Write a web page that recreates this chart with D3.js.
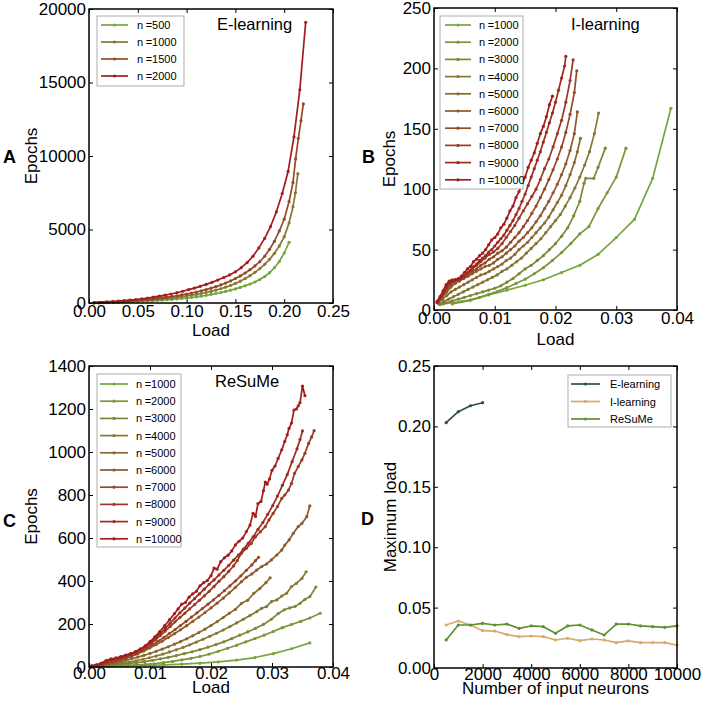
<!DOCTYPE html>
<html><head><meta charset="utf-8">
<script src="https://cdn.jsdelivr.net/npm/d3@7"></script>
<style>body{margin:0;background:#fff}svg{display:block}text{font-family:"Liberation Sans",Arial,Helvetica,sans-serif}</style>
</head><body><script>
// ---------- Panel A: E-learning, [load, epochs]
const eL500=[[0.005,5],[0.010,15],[0.015,25],[0.020,35],[0.025,45],[0.030,55],[0.035,66],[0.040,78],[0.045,92],[0.050,106],[0.055,121],[0.060,137],[0.065,155],[0.070,175],[0.075,197],[0.080,220],[0.085,246],[0.090,274],[0.095,305],[0.100,338],[0.105,375],[0.110,415],[0.115,465],[0.120,520],[0.125,580],[0.130,645],[0.135,715],[0.140,790],[0.145,870],[0.150,960],[0.155,1060],[0.160,1170],[0.165,1290],[0.170,1430],[0.175,1600],[0.180,1800],[0.185,2060],[0.190,2400],[0.195,2820],[0.200,3400],[0.205,4130]];
const eL1000=[[0.005,8],[0.010,20],[0.015,33],[0.020,46],[0.025,60],[0.030,75],[0.035,91],[0.040,108],[0.045,127],[0.050,147],[0.055,169],[0.060,193],[0.065,219],[0.070,247],[0.075,278],[0.080,311],[0.085,347],[0.090,387],[0.095,430],[0.100,477],[0.105,528],[0.110,584],[0.115,646],[0.120,714],[0.125,790],[0.130,874],[0.135,968],[0.140,1074],[0.145,1194],[0.150,1330],[0.155,1485],[0.160,1660],[0.165,1860],[0.170,2085],[0.175,2340],[0.180,2630],[0.185,2970],[0.190,3380],[0.195,3880],[0.200,4500],[0.205,5450],[0.209,6550],[0.2115,7500],[0.214,8800]];
const eL1500=[[0.005,10],[0.010,25],[0.015,41],[0.020,58],[0.025,76],[0.030,95],[0.035,115],[0.040,137],[0.045,161],[0.050,187],[0.055,215],[0.060,246],[0.065,279],[0.070,315],[0.075,354],[0.080,397],[0.085,443],[0.090,494],[0.095,549],[0.100,609],[0.105,675],[0.110,747],[0.115,826],[0.120,912],[0.125,1007],[0.130,1112],[0.135,1228],[0.140,1357],[0.145,1500],[0.150,1660],[0.155,1840],[0.160,2040],[0.165,2265],[0.170,2520],[0.175,2810],[0.180,3180],[0.185,3650],[0.190,4200],[0.195,4900],[0.200,5700],[0.205,6900],[0.209,8200],[0.2117,9800],[0.2145,11200],[0.2172,12400],[0.2196,13540]];
const eL2000=[[0.006,20],[0.012,45],[0.018,72],[0.024,100],[0.030,130],[0.036,162],[0.042,197],[0.048,237],[0.054,281],[0.060,335],[0.066,400],[0.072,465],[0.078,535],[0.084,610],[0.090,700],[0.096,800],[0.102,905],[0.108,1015],[0.114,1135],[0.120,1265],[0.126,1405],[0.132,1560],[0.138,1730],[0.144,1910],[0.150,2120],[0.156,2400],[0.162,2750],[0.168,3180],[0.174,3750],[0.180,4400],[0.186,5200],[0.192,6200],[0.198,7450],[0.204,8950],[0.210,11300],[0.216,14500],[0.222,19100]];
// ---------- Panel B: I-learning
const iL1000=[[0.003,5],[0.006,8],[0.009,12.5],[0.012,16.5],[0.015,20.5],[0.018,25],[0.021,31],[0.024,37],[0.027,46],[0.030,60],[0.033,75],[0.036,109],[0.039,167]];
const iL2000=[[0.0015,5],[0.003,6],[0.0045,7],[0.006,8.5],[0.0075,10.5],[0.009,13],[0.0105,15.5],[0.012,18.5],[0.0135,22],[0.015,25.5],[0.0165,30],[0.018,35],[0.0195,41],[0.021,47.5],[0.0225,55],[0.024,63],[0.0255,69],[0.027,84],[0.0285,97],[0.030,110],[0.0316,134]];
const iL3000=[[0.001,4.5],[0.002,6],[0.003,7.5],[0.004,9],[0.005,10.5],[0.006,12],[0.007,13.5],[0.008,15],[0.009,16.5],[0.010,18],[0.011,20],[0.012,23],[0.013,26],[0.014,30],[0.015,34],[0.016,37],[0.017,41],[0.018,45],[0.019,50],[0.020,55],[0.021,61],[0.022,68],[0.023,78],[0.024,90],[0.0247,105],[0.025,109],[0.0263,109],[0.027,118],[0.0282,134]];
const iL4000=[[0.0008,5],[0.0016,7],[0.0024,9],[0.0032,11],[0.004,13],[0.0048,15],[0.0056,17],[0.0064,19],[0.0072,21],[0.008,23],[0.0088,25],[0.0096,27],[0.0104,29],[0.0112,32],[0.012,34],[0.0128,37],[0.0136,40],[0.0144,43],[0.0152,47],[0.016,51],[0.0168,55],[0.0176,59],[0.0184,64],[0.0192,69],[0.02,74],[0.0208,79],[0.0216,86],[0.0224,93],[0.0232,101],[0.024,110],[0.0248,120],[0.0256,131],[0.0264,146],[0.0271,163]];
const iL5000=[[0.0007,6],[0.0014,9],[0.0021,12],[0.0028,15],[0.0035,17],[0.0042,19],[0.0049,21],[0.0056,23],[0.0063,25],[0.007,27],[0.0077,29],[0.0084,30],[0.0091,32],[0.0098,34],[0.0105,36],[0.0112,38],[0.0119,41],[0.0126,43],[0.0133,46],[0.014,50],[0.0147,53],[0.0154,56],[0.0161,60],[0.0168,64],[0.0175,68],[0.0182,72],[0.0189,77],[0.0196,83],[0.0203,89],[0.021,95],[0.0217,103],[0.0224,112],[0.0231,122],[0.0236,131],[0.0241,142]];
const iL6000=[[0.0007,7],[0.0014,11],[0.0021,15],[0.0028,19],[0.0035,22],[0.0042,24],[0.0049,26],[0.0056,28],[0.0063,30],[0.007,32],[0.0077,34],[0.0084,36],[0.0091,37],[0.0098,39],[0.0105,42],[0.0112,44],[0.0119,47],[0.0126,50],[0.0133,53],[0.014,57],[0.0147,60],[0.0154,64],[0.0161,68],[0.0168,73],[0.0175,78],[0.0182,84],[0.0189,90],[0.0196,97],[0.0203,104],[0.021,112],[0.0217,121],[0.0224,132],[0.0231,146],[0.0236,164]];
const iL7000=[[0.0007,7],[0.0014,12],[0.0021,17],[0.0028,21],[0.0035,24],[0.0042,25],[0.0049,27],[0.0056,29],[0.0063,32],[0.007,34],[0.0077,37],[0.0084,39],[0.0091,42],[0.0098,44],[0.0105,47],[0.0112,49],[0.0119,52],[0.0126,56],[0.0133,60],[0.014,64],[0.0147,69],[0.0154,74],[0.0161,80],[0.0168,86],[0.0175,93],[0.0182,100],[0.0189,108],[0.0196,116],[0.0203,125],[0.021,135],[0.0217,147],[0.0224,162],[0.0231,180],[0.0235,198]];
const iL8000=[[0.0007,8],[0.0014,13],[0.0021,19],[0.0028,23],[0.0035,25],[0.0042,26],[0.0049,28],[0.0056,31],[0.0063,34],[0.007,37],[0.0077,40],[0.0084,43],[0.0091,46],[0.0098,48],[0.0105,51],[0.0112,55],[0.0119,60],[0.0126,65],[0.0133,70],[0.014,76],[0.0147,82],[0.0154,88],[0.0161,94],[0.0168,100],[0.0175,108],[0.0182,117],[0.0189,125],[0.0196,135],[0.0203,146],[0.021,157],[0.0217,172],[0.0224,190],[0.0229,207]];
const iL9000=[[0.0005,6],[0.001,10],[0.0015,14],[0.002,19],[0.0025,22],[0.003,24],[0.0035,25],[0.004,25],[0.0045,26],[0.005,28],[0.0055,31],[0.006,33],[0.0065,36],[0.007,38],[0.0075,41],[0.008,43],[0.0085,45],[0.009,48],[0.0095,50],[0.01,53],[0.0105,56],[0.011,59],[0.0115,62],[0.012,66],[0.0125,70],[0.013,74],[0.0135,79],[0.014,84],[0.0145,90],[0.015,96],[0.0155,103],[0.016,110],[0.0165,117],[0.017,124],[0.0175,131],[0.018,139],[0.0185,147],[0.019,155],[0.0195,163],[0.02,172],[0.0205,182],[0.021,192],[0.0215,202],[0.0217,210]];
const iL10000=[[0.0005,7],[0.001,11],[0.0015,16],[0.002,21],[0.0025,24],[0.003,25],[0.0035,25],[0.004,26],[0.0045,28],[0.005,31],[0.0055,34],[0.006,36],[0.0065,40],[0.007,42],[0.0075,45],[0.008,47],[0.0085,50],[0.009,54],[0.0095,58],[0.01,60],[0.0105,63],[0.011,68],[0.0115,71],[0.012,76],[0.0125,82],[0.013,86],[0.0135,93],[0.014,98],[0.0145,105],[0.015,110],[0.0155,118],[0.016,124],[0.0165,130],[0.017,138],[0.0175,146],[0.018,152],[0.0185,160],[0.019,170],[0.0195,177]];
// ---------- Panel C: ReSuMe
const rS1000=[[0.0032,3],[0.0062,5],[0.0092,7],[0.0122,10],[0.0152,13],[0.0182,18],[0.0212,24],[0.0242,32],[0.0272,44],[0.0302,62],[0.0332,85],[0.0362,112]];
const rS2000=[[0.0017,2],[0.0032,4],[0.0047,6],[0.0062,8],[0.0077,10],[0.0092,12],[0.0107,15],[0.0122,20],[0.0137,26],[0.0152,33],[0.0167,40],[0.0182,49],[0.0197,60],[0.0212,73],[0.0227,87],[0.0242,101],[0.0257,117],[0.0272,132],[0.0287,148],[0.0302,165],[0.0317,183],[0.0332,198],[0.0347,212],[0.0362,228],[0.0379,250]];
const rS3000=[[0.0013,3],[0.0026,6],[0.0039,9],[0.0052,12],[0.0065,16],[0.0078,20],[0.0091,25],[0.0104,31],[0.0117,38],[0.013,45],[0.0143,53],[0.0156,62],[0.0169,71],[0.0182,81],[0.0195,92],[0.0208,104],[0.0221,117],[0.0234,132],[0.0247,148],[0.026,163],[0.0273,180],[0.0286,198],[0.0299,222],[0.031,248],[0.032,266],[0.0329,275],[0.0338,282],[0.0346,296],[0.0354,315],[0.0362,327],[0.0372,372]];
const rS4000=[[0.0011,3],[0.0022,6],[0.0033,9],[0.0044,13],[0.0055,18],[0.0066,23],[0.0077,29],[0.0088,36],[0.0099,43],[0.011,51],[0.0121,60],[0.0132,70],[0.0143,80],[0.0154,91],[0.0165,103],[0.0176,116],[0.0187,129],[0.0198,143],[0.0209,157],[0.022,172],[0.0231,188],[0.0242,205],[0.0253,222],[0.0264,240],[0.0275,258],[0.0283,273],[0.0291,281],[0.0299,304],[0.0308,312],[0.0316,330],[0.0324,343],[0.0332,374],[0.034,389],[0.0349,412],[0.0356,443]];
const rS5000=[[0.001,4],[0.002,8],[0.003,13],[0.004,18],[0.005,24],[0.006,31],[0.007,38],[0.008,46],[0.009,54],[0.010,63],[0.011,73],[0.012,83],[0.013,94],[0.014,106],[0.015,118],[0.016,131],[0.017,145],[0.018,160],[0.019,176],[0.020,193],[0.021,211],[0.022,230],[0.023,250],[0.024,268],[0.025,296],[0.026,310],[0.027,342],[0.028,365],[0.029,392],[0.0297,415]];
const rS6000=[[0.001,5],[0.002,10],[0.003,16],[0.004,23],[0.005,31],[0.006,40],[0.007,50],[0.008,62],[0.009,75],[0.010,89],[0.011,104],[0.012,120],[0.013,137],[0.014,155],[0.015,173],[0.016,192],[0.017,212],[0.018,232],[0.019,253],[0.020,275],[0.021,297],[0.022,320],[0.023,345],[0.024,370],[0.025,397],[0.0258,417],[0.0267,433],[0.0275,451],[0.0283,467],[0.0291,479],[0.0299,498],[0.0308,521],[0.0316,544],[0.0321,567],[0.0328,591],[0.0335,622],[0.0343,653],[0.0349,668],[0.0357,699],[0.0362,749]];
const rS7000=[[0.0006,4],[0.0015,8],[0.0024,13],[0.0033,19],[0.0042,26],[0.0051,33],[0.006,41],[0.0069,50],[0.0078,61],[0.0087,75],[0.0096,90],[0.0105,105],[0.0114,121],[0.0123,138],[0.0132,156],[0.0141,174],[0.015,193],[0.0159,212],[0.0168,232],[0.0177,252],[0.0186,272],[0.0195,292],[0.0204,312],[0.0213,333],[0.0222,355],[0.0231,377],[0.024,400],[0.0249,424],[0.0258,450],[0.0267,475],[0.0273,495],[0.0278,510]];
const rS8000=[[0.0005,4],[0.0013,8],[0.0021,14],[0.0029,22],[0.0037,30],[0.0045,36],[0.0053,43],[0.0061,50],[0.0069,58],[0.0077,68],[0.0085,80],[0.0093,93],[0.0101,108],[0.0109,126],[0.0117,146],[0.0125,167],[0.0133,188],[0.0141,210],[0.0149,230],[0.0157,250],[0.0165,270],[0.0173,290],[0.0181,310],[0.0189,331],[0.0197,352],[0.0205,375],[0.0213,398],[0.0221,420],[0.0229,445],[0.0237,470],[0.0243,495],[0.025,529],[0.0258,552],[0.0266,575],[0.0273,606],[0.0281,629],[0.0289,653],[0.0295,684],[0.0302,715],[0.0309,746],[0.0316,784],[0.0321,800],[0.0327,823],[0.0332,854],[0.0337,901],[0.0343,932],[0.0349,963],[0.0354,994],[0.036,1040],[0.0365,1070],[0.0369,1099]];
const rS9000=[[0.0005,4],[0.0013,9],[0.0021,16],[0.0029,25],[0.0037,33],[0.0045,39],[0.0053,45],[0.0061,51],[0.0069,59],[0.0077,69],[0.0085,81],[0.0093,96],[0.0101,114],[0.0109,134],[0.0117,156],[0.0125,180],[0.0133,204],[0.0141,228],[0.0149,252],[0.0157,274],[0.0165,297],[0.0173,318],[0.0181,340],[0.0189,362],[0.0197,385],[0.0205,405],[0.0213,428],[0.0221,450],[0.0229,472],[0.0237,497],[0.0245,520],[0.0253,548],[0.0261,575],[0.0269,605],[0.0277,640],[0.0285,672],[0.0293,710],[0.0301,750],[0.0309,795],[0.0317,845],[0.0325,895],[0.0333,955],[0.0341,1015],[0.0346,1058],[0.035,1098]];
const rS10000=[[0.0004,5],[0.0012,10],[0.002,18],[0.0028,30],[0.0036,38],[0.0044,42],[0.0052,48],[0.006,55],[0.0068,62],[0.0076,72],[0.0084,84],[0.0092,98],[0.01,118],[0.0108,140],[0.0116,165],[0.0124,192],[0.0132,220],[0.014,248],[0.0146,270],[0.0152,292],[0.0158,300],[0.0164,325],[0.017,340],[0.0176,352],[0.0182,378],[0.0188,392],[0.0194,402],[0.02,425],[0.0205,460],[0.021,455],[0.0216,490],[0.0222,508],[0.0228,520],[0.0234,540],[0.024,568],[0.0246,585],[0.0252,600],[0.0258,630],[0.0264,660],[0.0269,715],[0.0273,700],[0.0277,760],[0.0282,770],[0.0286,820],[0.0289,860],[0.0292,850],[0.0296,875],[0.03,915],[0.0305,935],[0.031,970],[0.0316,1010],[0.0321,1050],[0.0325,1080],[0.0328,1110],[0.0332,1135],[0.0336,1195],[0.034,1200],[0.0343,1215],[0.0346,1230],[0.035,1307],[0.0354,1262]];
// ---------- Panel D: maximum load vs number of input neurons
const dNeurons=[500,1000,1500,2000,2500,3000,3500,4000,4500,5000,5500,6000,6500,7000,7500,8000,8500,9000,9500,10000];
const dELearn=[0.2031,0.2122,0.2171,0.2196];
const dILearn=[0.0356,0.0389,0.0356,0.0309,0.0306,0.0276,0.026,0.0265,0.026,0.0232,0.0246,0.0226,0.024,0.0232,0.021,0.0224,0.021,0.021,0.021,0.019];
const dReSuMe=[0.0232,0.0356,0.0356,0.037,0.0356,0.0364,0.0328,0.0348,0.0342,0.0287,0.0348,0.0356,0.0315,0.0273,0.0364,0.0364,0.0348,0.0342,0.0337,0.0348];
// ---------- labels and ticks
const namesA=["n=500","n=1000","n=1500","n=2000"];
const namesBC=["n=1000","n=2000","n=3000","n=4000","n=5000","n=6000","n=7000","n=8000","n=9000","n=10000"];
const namesD=["E-learning","I-learning","ReSuMe"];
const xTicksA=[0,0.05,0.1,0.15,0.2,0.25], yTicksA=[0,5000,10000,15000,20000];
const xTicksBC=[0,0.01,0.02,0.03,0.04];
const yTicksB=[0,50,100,150,200,250];
const yTicksC=[0,200,400,600,800,1000,1200,1400];
const xTicksD=[0,2000,4000,6000,8000,10000], yTicksD=[0,0.05,0.1,0.15,0.2,0.25];

const svg=d3.select("body").append("svg").attr("width",706).attr("height",708);
const grad=d3.interpolateRgb("#74a63e","#a41c1c");
const FONT='"Liberation Sans",Arial,Helvetica,sans-serif';

function panel(c){
  const x=d3.scaleLinear().domain(c.xd).range([c.l,c.r]);
  const y=d3.scaleLinear().domain(c.yd).range([c.b,c.t]);
  const g=svg.append("g");
  const ax=[
    [d3.axisBottom(x).tickValues(c.xt).tickFormat(c.xf).tickSize(-4).tickPadding(c.xpad),`translate(0,${c.b})`],
    [d3.axisTop(x).tickValues(c.xt).tickFormat("").tickSize(-4),`translate(0,${c.t})`],
    [d3.axisLeft(y).tickValues(c.yt).tickFormat(c.yf).tickSize(-4).tickPadding(3),`translate(${c.l},0)`],
    [d3.axisRight(y).tickValues(c.yt).tickFormat("").tickSize(-4),`translate(${c.r},0)`]
  ];
  ax.forEach(([a,t])=>g.append("g").attr("transform",t).call(a));
  g.selectAll(".domain").remove();
  g.selectAll(".tick line").attr("stroke","#000").attr("stroke-width",1);
  g.selectAll(".tick text").attr("font-size",17).attr("fill","#000").attr("font-family",FONT);
  const line=d3.line().x(d=>x(d[0])).y(d=>y(d[1]));
  c.series.forEach((s,i)=>{
    const col=c.colors[i];
    g.append("path").datum(s).attr("d",line).attr("fill","none").attr("stroke",col).attr("stroke-width",1.7).attr("stroke-linejoin","round");
    g.selectAll(null).data(s).enter().append("circle").attr("cx",d=>x(d[0])).attr("cy",d=>y(d[1])).attr("r",1.6).attr("fill",col);
  });
  g.append("rect").attr("x",c.l).attr("y",c.t).attr("width",c.r-c.l).attr("height",c.b-c.t).attr("fill","none").attr("stroke","#000").attr("stroke-width",1.5);
  // legend
  const L=c.leg;
  g.append("rect").attr("x",L.x).attr("y",L.y).attr("width",L.w).attr("height",L.h).attr("fill","#fff").attr("stroke","#999").attr("stroke-width",0.8);
  c.names.forEach((n,i)=>{
    const yy=L.y0+i*L.dy;
    g.append("line").attr("x1",L.lx1).attr("x2",L.lx2).attr("y1",yy).attr("y2",yy).attr("stroke",c.colors[i]).attr("stroke-width",1.7);
    g.append("circle").attr("cx",(L.lx1+L.lx2)/2).attr("cy",yy).attr("r",1.6).attr("fill",c.colors[i]);
    const t=g.append("text").attr("x",L.tx).attr("y",yy+4).attr("font-size",11).attr("fill","#000");
    if(n.startsWith("n=")){t.append("tspan").text("n");t.append("tspan").attr("dx",2.5).text(n.slice(1));}
    else t.text(n);
  });
  if(c.title) g.append("text").attr("x",c.title[1]).attr("y",c.title[2]).attr("font-size",16.5).text(c.title[0]);
  g.append("text").attr("x",(c.l+c.r)/2).attr("y",c.xlabY).attr("text-anchor","middle").attr("font-size",17).text(c.xlab);
  g.append("text").attr("transform",`translate(${c.ylabX},${(c.t+c.b)/2}) rotate(-90)`).attr("text-anchor","middle").attr("font-size",17).text(c.ylab);
  g.append("text").attr("x",c.letter[1]).attr("y",c.letter[2]).attr("font-size",18).attr("font-weight","bold").text(c.letter[0]);
}

const colA=namesA.map((d,i)=>grad(i/(namesA.length-1)));
const colBC=namesBC.map((d,i)=>grad(i/(namesBC.length-1)));

panel({l:89,r:333,t:9,b:303,xd:[0,0.25],yd:[0,20000],xt:xTicksA,yt:yTicksA,xf:d3.format(".2f"),yf:d3.format("d"),xpad:2,
  series:[eL500,eL1000,eL1500,eL2000],colors:colA,names:namesA,
  leg:{x:97,y:16,w:87,h:70,y0:25,dy:17,lx1:101,lx2:128,tx:137},
  title:["E-learning",217,30],xlab:"Load",xlabY:336,ylab:"Epochs",ylabX:37,letter:["A",3,163]});

panel({l:434,r:677,t:8,b:310,xd:[0,0.04],yd:[0,250],xt:xTicksBC,yt:yTicksB,xf:d3.format(".2f"),yf:d3.format("d"),xpad:2,
  series:[iL1000,iL2000,iL3000,iL4000,iL5000,iL6000,iL7000,iL8000,iL9000,iL10000],colors:colBC,names:namesBC,
  leg:{x:440,y:16,w:83,h:173,y0:25,dy:17.2,lx1:445,lx2:471,tx:479},
  title:["I-learning",571,30],xlab:"Load",xlabY:345,ylab:"Epochs",ylabX:395,letter:["B",362,163]});

panel({l:89,r:333,t:366,b:667,xd:[0,0.04],yd:[0,1400],xt:xTicksBC,yt:yTicksC,xf:d3.format(".2f"),yf:d3.format("d"),xpad:0,
  series:[rS1000,rS2000,rS3000,rS4000,rS5000,rS6000,rS7000,rS8000,rS9000,rS10000],colors:colBC,names:namesBC,
  leg:{x:97,y:374,w:84,h:173,y0:384,dy:17.2,lx1:100,lx2:128,tx:136},
  title:["ReSuMe",215,387],xlab:"Load",xlabY:693,ylab:"Epochs",ylabX:37,letter:["C",3,527]});

panel({l:434,r:677,t:366,b:668,xd:[0,10000],yd:[0,0.25],xt:xTicksD,yt:yTicksD,xf:d3.format("d"),yf:d3.format(".2f"),xpad:0,
  series:[dELearn.map((v,i)=>[dNeurons[i],v]),dILearn.map((v,i)=>[dNeurons[i],v]),dReSuMe.map((v,i)=>[dNeurons[i],v])],
  colors:["#2e4e50","#d8aa6c","#5e8f33"],names:namesD,
  leg:{x:568,y:375,w:103,h:52,y0:384,dy:17.5,lx1:571,lx2:600,tx:610},
  title:null,xlab:"Number of input neurons",xlabY:694,ylab:"Maximum load",ylabX:396,letter:["D",361,525]});
</script></body></html>
